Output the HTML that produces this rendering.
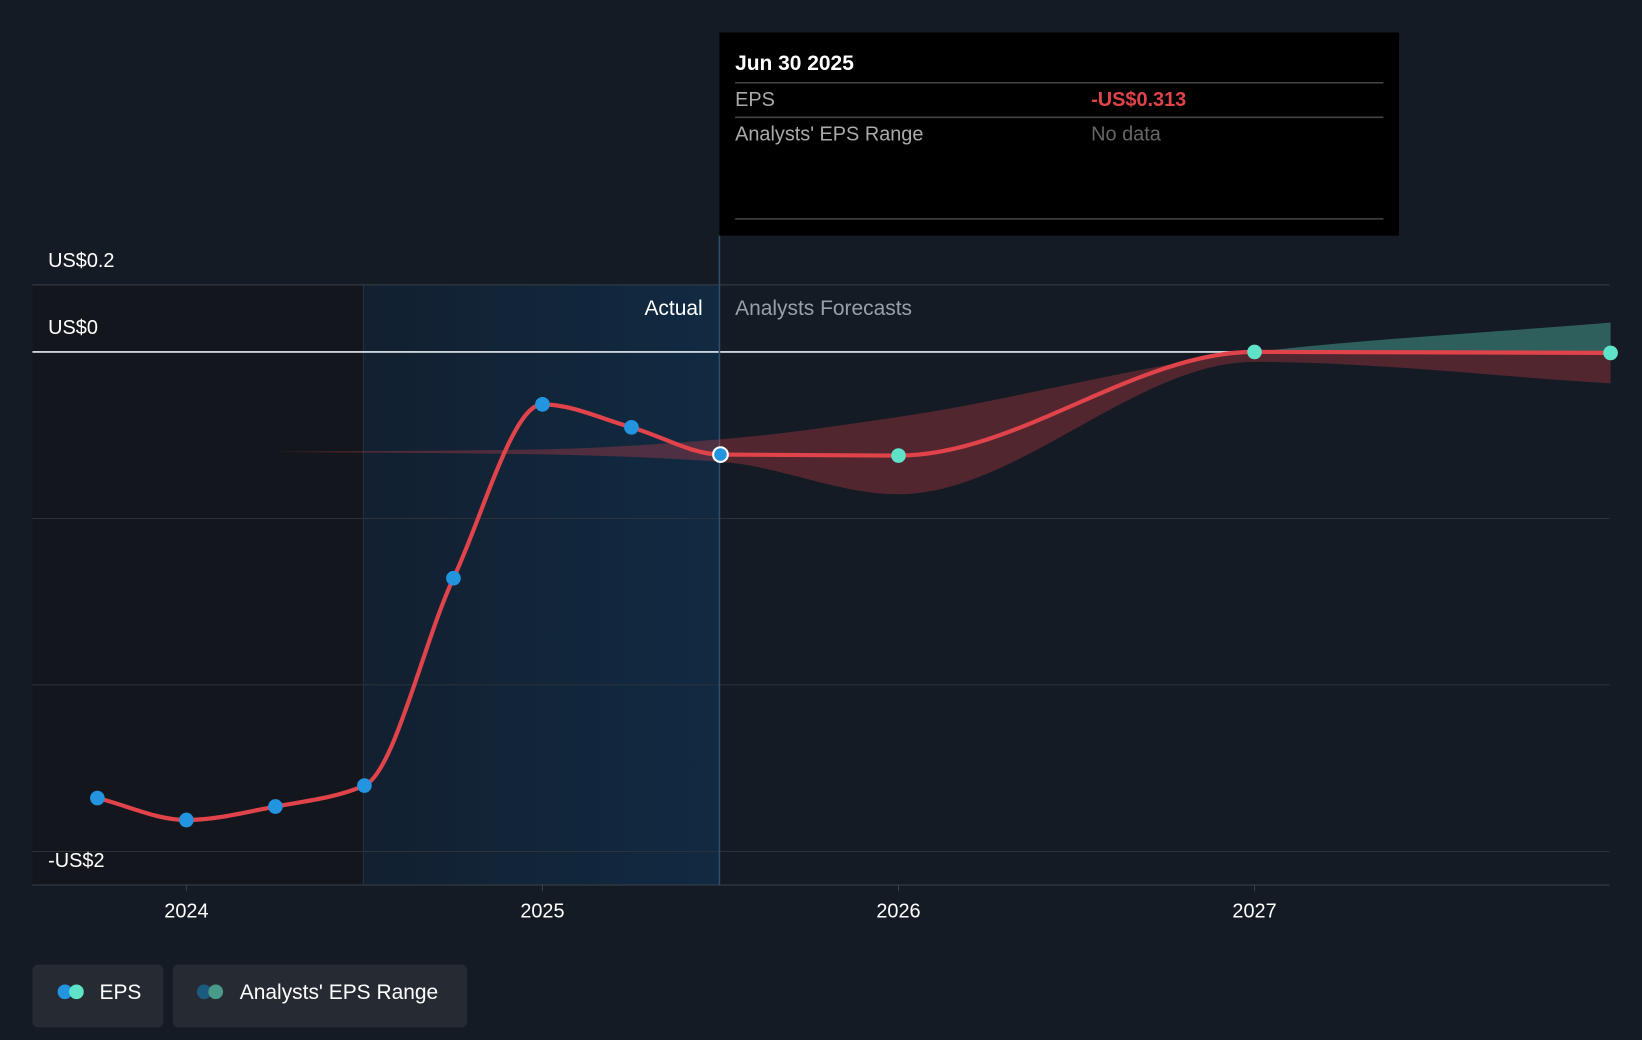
<!DOCTYPE html>
<html><head><meta charset="utf-8"><style>
html,body{margin:0;padding:0;background:#151b24;}
svg{display:block;font-family:"Liberation Sans",sans-serif;}
</style></head><body>
<svg id="chart" width="1642" height="1040" viewBox="0 0 1568 993" preserveAspectRatio="none" xmlns="http://www.w3.org/2000/svg">
<defs>
<linearGradient id="actGrad" x1="0" x2="1" y1="0" y2="0"><stop offset="0" stop-color="#122030"/><stop offset="1" stop-color="#112a42"/></linearGradient>
<clipPath id="above"><rect x="0" y="0" width="1568" height="336"/></clipPath>
<clipPath id="below"><rect x="0" y="336" width="1568" height="700"/></clipPath>
</defs>
<rect x="0" y="0" width="1568" height="993" fill="#151b24"/>
<rect x="31" y="272" width="316" height="573" fill="#13171d"/>
<rect x="347" y="272" width="340" height="573" fill="url(#actGrad)"/>
<line x1="347" y1="272" x2="347" y2="845" stroke="#1f3345" stroke-width="1"/>
<g id="grid"></g>
<line x1="31" y1="336" x2="1537" y2="336" stroke="#e6eef5" stroke-width="1.5"/>
<line x1="31" y1="845" x2="1537" y2="845" stroke="#3a4048" stroke-width="1"/>
<line x1="687" y1="225" x2="687" y2="845" stroke="#2c4e6b" stroke-width="1.5"/>
<text x="46" y="255" fill="#fff" font-size="19">US$0.2</text>
<text x="46" y="319" fill="#fff" font-size="19">US$0</text>
<text x="46" y="828" fill="#fff" font-size="19">-US$2</text>
<text x="671" y="301" fill="#fff" font-size="20" text-anchor="end">Actual</text>
<text x="702" y="301" fill="#9aa0a8" font-size="20">Analysts Forecasts</text>
<g id="band"></g>
<g id="xaxis"></g>
<path id="line" fill="none" stroke="#e0434a" stroke-width="4"/>
<g id="points"></g>
<g>
<rect x="687" y="31" width="649" height="194" fill="#000"/>
<text x="702" y="67" fill="#fff" font-size="20" font-weight="bold">Jun 30 2025</text>
<line x1="702" y1="79" x2="1321" y2="79" stroke="#444" stroke-width="1.5"/>
<text x="702" y="101" fill="#aaa" font-size="19">EPS</text>
<text x="1042" y="101" fill="#e0434a" font-size="19" font-weight="bold">-US$0.313</text>
<line x1="702" y1="112" x2="1321" y2="112" stroke="#444" stroke-width="1.5"/>
<text x="702" y="134" fill="#aaa" font-size="19">Analysts' EPS Range</text>
<text x="1042" y="134" fill="#666" font-size="19">No data</text>
<line x1="702" y1="209" x2="1321" y2="209" stroke="#444" stroke-width="1.5"/>
</g>
<g>
<rect x="31" y="921" width="125" height="60" rx="5" fill="#262b33"/>
<circle cx="62" cy="947" r="7" fill="#2394df"/><circle cx="73" cy="947" r="7" fill="#5fe3c8"/>
<text x="95" y="954" fill="#fff" font-size="20">EPS</text>
</g>
<g>
<rect x="165" y="921" width="281" height="60" rx="5" fill="#262b33"/>
<circle cx="195" cy="947" r="7" fill="#1d5a80"/><circle cx="206" cy="947" r="7" fill="#4a9a8a"/>
<text x="229" y="954" fill="#fff" font-size="20">Analysts' EPS Range</text>
</g>
</svg>
<script>
const epsDates=[2023.75,2024.0,2024.25,2024.5,2024.75,2025.0,2025.25,2025.5,2026.0,2027.0,2028.0];
const epsValues=[-1.786,-1.874,-1.82,-1.736,-0.906,-0.21,-0.302,-0.411,-0.415,0.0,-0.004];
const actualCount=8;
const bandDates=[2024.25,2025.0,2025.5,2026.0,2027.0,2028.0];
const bandLow=[-0.40,-0.41,-0.44,-0.57,-0.04,-0.126];
const bandHigh=[-0.40,-0.39,-0.35,-0.26,0.0,0.117];
const yearTicks=[2024,2025,2026,2027];
const gridValues=[-0.667,-1.333,-2];
const NS="http://www.w3.org/2000/svg";
function xs(d){return 178+(d-2024)*340;}
function ys(v){return 336-v*238.5;}
function monoSegs(p){const n=p.length,dx=[],s=[],m=[];
for(let i=0;i<n-1;i++){dx[i]=p[i+1][0]-p[i][0];s[i]=(p[i+1][1]-p[i][1])/dx[i];}
m[0]=s[0];m[n-1]=s[n-2];
for(let i=1;i<n-1;i++){if(s[i-1]*s[i]<=0)m[i]=0;else{const w1=2*dx[i]+dx[i-1],w2=dx[i]+2*dx[i-1];m[i]=(w1+w2)/(w1/s[i-1]+w2/s[i]);}}
const segs=[];for(let i=0;i<n-1;i++){const h=dx[i]/3;
segs.push([p[i],[p[i][0]+h,p[i][1]+m[i]*h],[p[i+1][0]-h,p[i+1][1]-m[i+1]*h],p[i+1]]);}return segs;}
function segPath(segs,move){let d=move?"M"+segs[0][0][0]+","+segs[0][0][1]:"";
segs.forEach(s=>{d+=" C"+s[1][0]+","+s[1][1]+" "+s[2][0]+","+s[2][1]+" "+s[3][0]+","+s[3][1];});return d;}
const grid=document.getElementById('grid');
gridValues.forEach(v=>{const l=document.createElementNS(NS,'line');


l.setAttribute('x1',31);l.setAttribute('x2',1537);l.setAttribute('y1',ys(v));l.setAttribute('y2',ys(v));l.setAttribute('stroke','#2b323b');grid.appendChild(l);});
const tl=document.createElementNS(NS,'line');tl.setAttribute('x1',31);tl.setAttribute('x2',1537);tl.setAttribute('y1',272);tl.setAttribute('y2',272);tl.setAttribute('stroke','#3a4048');grid.appendChild(tl);
const xa=document.getElementById('xaxis');
yearTicks.forEach(y=>{const t=document.createElementNS(NS,'text');


t.setAttribute('x',xs(y));t.setAttribute('y',876);t.setAttribute('fill','#fff');t.setAttribute('font-size','19');t.setAttribute('text-anchor','middle');t.textContent=y;xa.appendChild(t);
const k=document.createElementNS(NS,'line');k.setAttribute('x1',xs(y));k.setAttribute('x2',xs(y));k.setAttribute('y1',845);k.setAttribute('y2',851);k.setAttribute('stroke','#3a4048');xa.appendChild(k);});
const up=bandDates.map((d,i)=>[xs(d),ys(bandHigh[i])]),lo=bandDates.map((d,i)=>[xs(d),ys(bandLow[i])]);
const loSegs=monoSegs(lo).reverse().map(s=>[s[3],s[2],s[1],s[0]]);
const last=lo[lo.length-1];
const bd=segPath(monoSegs(up),true)+" L"+last[0]+","+last[1]+segPath(loSegs,false)+" Z";
const band=document.getElementById('band');
[['below','#e0434a',0.3],['above','#4fb3a3',0.45]].forEach(([c,col,op])=>{const p=document.createElementNS(NS,'path');


p.setAttribute('d',bd);p.setAttribute('fill',col);p.setAttribute('fill-opacity',op);p.setAttribute('clip-path','url(#'+c+')');band.appendChild(p);});
const pts=epsDates.map((d,i)=>[xs(d),ys(epsValues[i])]);
document.getElementById('line').setAttribute('d',segPath(monoSegs(pts),true));
const pg=document.getElementById('points');
pts.forEach((p,i)=>{const c=document.createElementNS(NS,'circle');


c.setAttribute('cx',p[0]);c.setAttribute('cy',p[1]);c.setAttribute('r',7);
c.setAttribute('fill',i<actualCount?'#2394df':'#5fe3c8');
if(i===actualCount-1){c.setAttribute('stroke','#fff');c.setAttribute('stroke-width','2');}
pg.appendChild(c);});
</script>
</body></html>
